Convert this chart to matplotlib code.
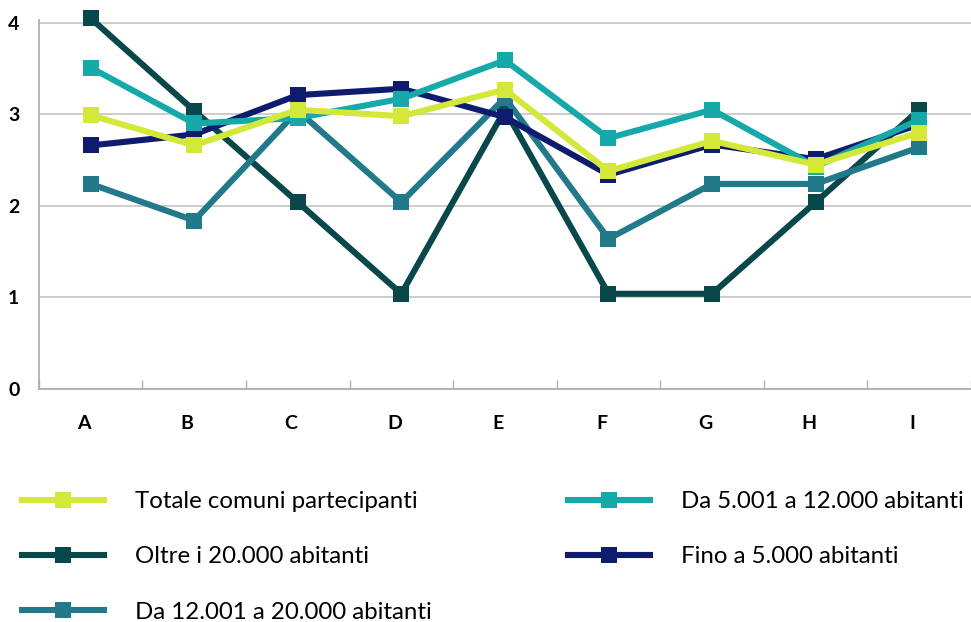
import matplotlib
matplotlib.use("Agg")
import matplotlib.pyplot as plt
from matplotlib.lines import Line2D
import matplotlib.transforms as mtransforms

categories = ["A", "B", "C", "D", "E", "F", "G", "H", "I"]
y_ticks = [0, 1, 2, 3, 4]

totale = [2.99, 2.66, 3.05, 2.98, 3.27, 2.38, 2.71, 2.45, 2.80]
da_5001 = [3.51, 2.90, 2.96, 3.17, 3.59, 2.74, 3.05, 2.43, 2.94]
oltre_20000 = [4.05, 3.04, 2.04, 1.04, 3.05, 1.04, 1.04, 2.04, 3.05]
fino_5000 = [2.66, 2.78, 3.21, 3.28, 2.97, 2.34, 2.67, 2.51, 2.89]
da_12001 = [2.24, 1.84, 3.04, 2.04, 3.18, 1.64, 2.24, 2.24, 2.64]

labels = ["Totale comuni partecipanti", "Da 5.001 a 12.000 abitanti",
          "Oltre i 20.000 abitanti", "Fino a 5.000 abitanti",
          "Da 12.001 a 20.000 abitanti"]
colors = {"tot": "#d4e83a", "c5": "#16a9a9", "o20": "#08474a",
          "f5": "#0f1c6e", "c12": "#21798a"}

plt.rcParams['font.family'] = ['Lato', 'DejaVu Sans']

fig = plt.figure(figsize=(9.71, 6.22), dpi=100)
ax = fig.add_axes([0.040, 0.3746, 0.960, 0.5932])

x = list(range(len(categories)))
lw = 4.4
ms = 11.5
series = [
    (oltre_20000, colors["o20"], labels[2], 2),
    (da_12001, colors["c12"], labels[4], 3),
    (fino_5000, colors["f5"], labels[3], 4),
    (da_5001, colors["c5"], labels[1], 5),
    (totale, colors["tot"], labels[0], 6),
]
handles = {}
for vals, col, lab, z in series:
    h, = ax.plot(x, vals, color=col, lw=lw, marker="s", ms=ms,
                 markeredgewidth=0, zorder=z, clip_on=False, label=lab)
    handles[lab] = h

ax.set_xlim(-0.5, 8.46)
ax.set_ylim(0, 4.03)
ax.set_yticks(y_ticks)
ax.set_yticklabels([str(v) for v in y_ticks], fontsize=14, fontweight="bold")
ax.tick_params(axis="y", length=0, pad=14)
ax.yaxis.grid(True, color="#c0c0c0", lw=1.1, zorder=0)
ax.set_axisbelow(True)

ax.set_xticks(x)
ax.set_xticklabels(categories, fontsize=14, fontweight="bold")
ax.tick_params(axis="x", length=0, pad=19)
offset = mtransforms.ScaledTranslation(-7 / 100, 0, fig.dpi_scale_trans)
for lbl in ax.get_xticklabels():
    lbl.set_transform(lbl.get_transform() + offset)
ax.set_xticks([i + 0.5 for i in range(-1, len(categories))], minor=True)
ax.tick_params(axis="x", which="minor", direction="in", length=6.5,
               color="#b0b0b0", width=1)

for s in ["top", "right"]:
    ax.spines[s].set_visible(False)
for s in ["left", "bottom"]:
    ax.spines[s].set_color("#b0b0b0")
    ax.spines[s].set_linewidth(1.3)

def mk(lab):
    h = handles[lab]
    return Line2D([], [], color=h.get_color(), lw=lw, marker="s", ms=ms,
                  markeredgewidth=0)

fs = 17.3
leg_kw = dict(frameon=False, fontsize=fs, handlelength=3.43, handletextpad=1.28,
              labelspacing=1.43, borderaxespad=0, borderpad=0)
leg1 = fig.legend([mk(labels[0]), mk(labels[2]), mk(labels[4])],
                  [labels[0], labels[2], labels[4]], loc="upper left",
                  bbox_to_anchor=(22 / 971, 1 - 491 / 622), **leg_kw)
leg2 = fig.legend([mk(labels[1]), mk(labels[3])],
                  [labels[1], labels[3]], loc="upper left",
                  bbox_to_anchor=(568 / 971, 1 - 491 / 622), **leg_kw)

fig.savefig("out.png", dpi=100)
